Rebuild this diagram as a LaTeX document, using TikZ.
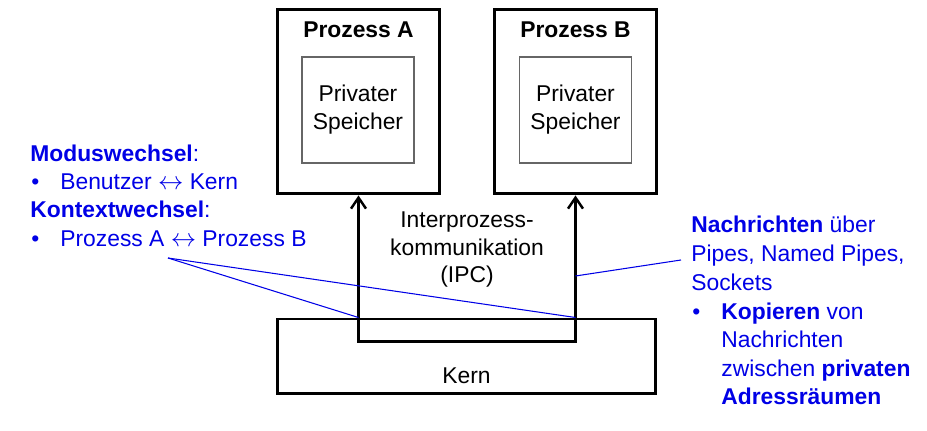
\documentclass[tikz,border=0pt]{standalone}
\usepackage{fontspec}
\setmainfont{Liberation Sans}
\usepackage{tikz}
\usetikzlibrary{arrows.meta, positioning, calc}
\definecolor{noteblue}{RGB}{0,0,230}
\newcommand{\lrarrow}{\smash{\fontsize{15}{15}\selectfont$\leftrightarrow$}}

\tikzset{
    procbox/.style={draw, line width=1.7pt, minimum width=3.26cm, minimum height=3.7cm},
    membox/.style={draw=black!60, line width=0.6pt, minimum width=2.24cm, minimum height=2.12cm, align=center},
    kernbox/.style={draw, line width=1.7pt, minimum width=7.58cm, minimum height=1.5cm},
    txt/.style={font=\fontsize{13}{15.9}\selectfont, inner sep=0pt},
    note/.style={txt, text=noteblue, anchor=base west},
    pointer/.style={noteblue, line width=0.6pt}
}

\begin{document}
\begin{tikzpicture}[x=0.02cm, y=-0.02cm]
    \useasboundingbox (0,0) rectangle (927,431);
    % Processes with private memory
    \node[procbox] (procA) at (358.5,101.5) {};
    \node[txt, anchor=base] (titleA) at (358.5,38) {\textbf{Prozess A}};
    \node[membox, txt] (memA) at (358,110) {Privater\\Speicher};
    \node[procbox] (procB) at (575.5,101.5) {};
    \node[txt, anchor=base] (titleB) at (575.5,38) {\textbf{Prozess B}};
    \node[membox, txt] (memB) at (575.5,110) {Privater\\Speicher};
    % Kernel
    \node[kernbox] (kern) at (466.5,356.5) {};
    \node[txt, anchor=base] (kernlabel) at (466.5,384) {Kern};
    % IPC path through the kernel
    \draw[{Straight Barb[length=2.2mm, width=3mm]}-{Straight Barb[length=2.2mm, width=3mm]}, line width=1.4pt]
        (procA.south) -- ++(0,146) -| (procB.south);
    \node[txt, align=center, anchor=base] (ipc) at (467,283) {Interprozess-\\kommunikation\\(IPC)};
    % Notes on the left
    \node[note] (modus) at (30,162) {\textbf{Moduswechsel}:};
    \node[note] (bulletA) at (31,190) {•};
    \node[note] (modusitem) at (60,190) {Benutzer \lrarrow{} Kern};
    \node[note] (kontext) at (30,218) {\textbf{Kontextwechsel}:};
    \node[note] (bulletB) at (31,247) {•};
    \node[note] (kontextitem) at (60,247) {Prozess A \lrarrow{} Prozess B};
    % Notes on the right
    \node[note] (msgA) at (691,233) {\textbf{Nachrichten} über};
    \node[note] (msgB) at (691,262) {Pipes, Named Pipes,};
    \node[note] (msgC) at (691,291) {Sockets};
    \node[note] (bulletC) at (692,320) {•};
    \node[note] (copyA) at (721,320) {\textbf{Kopieren} von};
    \node[note] (copyB) at (721,348) {Nachrichten};
    \node[note] (copyC) at (721,377) {zwischen \textbf{privaten}};
    \node[note] (copyD) at (721,405) {\textbf{Adressräumen}};
    % Pointer lines
    \coordinate (ctxpt) at (168,258);
    \coordinate (msgpt) at (681,260);
    \draw[pointer] (ctxpt) -- (procA.south |- kern.north);
    \draw[pointer] (ctxpt) -- (procB.south |- kern.north);
    \draw[pointer] (msgpt) -- (procB.south |- 0,276);
\end{tikzpicture}
\end{document}
